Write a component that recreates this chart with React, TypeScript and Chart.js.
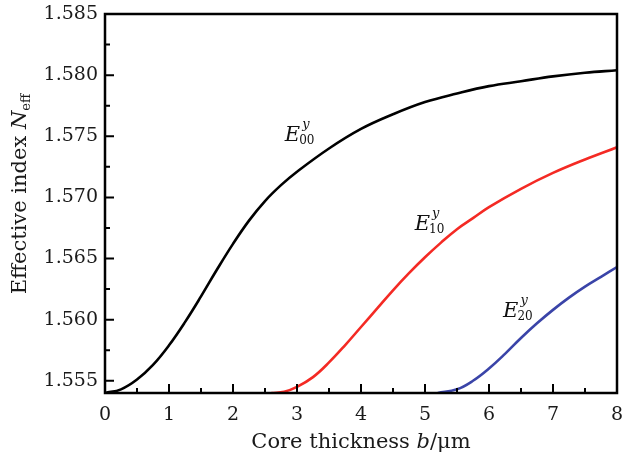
import React, { useEffect, useRef } from 'react';
import { Chart, registerables } from 'chart.js';

Chart.register(...registerables);

// ---- data ----
const xTicks = [0, 1, 2, 3, 4, 5, 6, 7, 8];
const xMinorTicks = [0.5, 1.5, 2.5, 3.5, 4.5, 5.5, 6.5, 7.5];
const yTicks = [1.555, 1.56, 1.565, 1.57, 1.575, 1.58, 1.585];
const yMinorTicks = [1.5575, 1.5625, 1.5675, 1.5725, 1.5775, 1.5825];

const bE00 = [0, 0.25, 0.5, 0.75, 1, 1.25, 1.5, 1.75, 2, 2.25, 2.5, 2.75, 3, 3.5, 4, 4.5, 5, 5.5, 6, 6.5, 7, 7.5, 8];
const nE00 = [1.554, 1.5543, 1.5551, 1.5563, 1.5579, 1.5598, 1.5619, 1.5641, 1.5662, 1.5681, 1.5697, 1.571, 1.5721, 1.574, 1.5756, 1.5768, 1.5778, 1.5785, 1.5791, 1.5795, 1.5799, 1.5802, 1.5804];

const bE10 = [2.6, 2.8, 3, 3.25, 3.5, 3.75, 4, 4.25, 4.5, 4.75, 5, 5.25, 5.5, 5.75, 6, 6.5, 7, 7.5, 8];
const nE10 = [1.554, 1.5541, 1.5545, 1.5553, 1.5565, 1.5579, 1.5594, 1.5609, 1.5624, 1.5638, 1.5651, 1.5663, 1.5674, 1.5683, 1.5692, 1.5707, 1.572, 1.5731, 1.5741];

const bE20 = [5.2, 5.5, 5.75, 6, 6.25, 6.5, 6.75, 7, 7.25, 7.5, 7.75, 8];
const nE20 = [1.554, 1.5543, 1.555, 1.556, 1.5572, 1.5585, 1.5597, 1.5608, 1.5618, 1.5627, 1.5635, 1.5643];

const modeNames = ['00', '10', '20'];
const modeLabelB = [2.81, 4.84, 6.22];
const modeLabelN = [1.5746, 1.5673, 1.56025];

const seriesColors = ['#000000', '#f42a24', '#3a44a8'];

const xTitleParts = ['Core thickness ', 'b', '/μm'];
const yTitleParts = ['Effective index ', 'N', 'eff'];

const FONT = '"DejaVu Serif", serif';

const toPoints = (xs: number[], ys: number[]) => xs.map((x, i) => ({ x, y: ys[i] }));

const decorPlugin = {
  id: 'decor',
  afterDatasetsDraw(chart: any) {
    const { ctx, chartArea: a, scales } = chart;
    const xs = scales.x;
    const ys = scales.y;
    ctx.save();
    ctx.strokeStyle = '#000';
    ctx.lineWidth = 2;
    ctx.beginPath();
    xTicks.forEach((v) => {
      const p = xs.getPixelForValue(v);
      ctx.moveTo(p, a.bottom);
      ctx.lineTo(p, a.bottom - 9);
    });
    xMinorTicks.forEach((v) => {
      const p = xs.getPixelForValue(v);
      ctx.moveTo(p, a.bottom);
      ctx.lineTo(p, a.bottom - 5);
    });
    yTicks.forEach((v) => {
      const p = ys.getPixelForValue(v);
      ctx.moveTo(a.left, p);
      ctx.lineTo(a.left + 9, p);
    });
    yMinorTicks.forEach((v) => {
      const p = ys.getPixelForValue(v);
      ctx.moveTo(a.left, p);
      ctx.lineTo(a.left + 5, p);
    });
    ctx.stroke();
    ctx.lineWidth = 2.5;
    ctx.strokeRect(a.left, a.top, a.right - a.left, a.bottom - a.top);

    // mode labels
    ctx.fillStyle = '#111';
    ctx.textBaseline = 'alphabetic';
    ctx.textAlign = 'left';
    modeNames.forEach((name, i) => {
      const px = xs.getPixelForValue(modeLabelB[i]);
      const py = ys.getPixelForValue(modeLabelN[i]);
      ctx.font = `italic 21px ${FONT}`;
      ctx.fillText('E', px, py);
      const w = ctx.measureText('E').width;
      ctx.font = `12px ${FONT}`;
      ctx.fillText(name, px + w - 1, py + 3);
      ctx.font = `italic 13px ${FONT}`;
      ctx.fillText('y', px + w + 2, py - 13);
    });

    // x title
    ctx.fillStyle = '#1a1a1a';
    const cx = (a.left + a.right) / 2;
    ctx.font = `21px ${FONT}`;
    const w0 = ctx.measureText(xTitleParts[0]).width;
    ctx.font = `italic 21px ${FONT}`;
    const w1 = ctx.measureText(xTitleParts[1]).width;
    ctx.font = `21px ${FONT}`;
    const w2 = ctx.measureText(xTitleParts[2]).width;
    const sx = cx - (w0 + w1 + w2) / 2;
    const by = 448;
    ctx.font = `21px ${FONT}`;
    ctx.fillText(xTitleParts[0], sx, by);
    ctx.font = `italic 21px ${FONT}`;
    ctx.fillText(xTitleParts[1], sx + w0, by);
    ctx.font = `21px ${FONT}`;
    ctx.fillText(xTitleParts[2], sx + w0 + w1, by);

    // y title (rotated)
    ctx.save();
    ctx.translate(26, 194);
    ctx.rotate(-Math.PI / 2);
    ctx.font = `21px ${FONT}`;
    const v0 = ctx.measureText(yTitleParts[0]).width;
    ctx.font = `italic 21px ${FONT}`;
    const v1 = ctx.measureText(yTitleParts[1]).width;
    ctx.font = `13px ${FONT}`;
    const v2 = ctx.measureText(yTitleParts[2]).width;
    const s = -(v0 + v1 + v2) / 2;
    ctx.font = `21px ${FONT}`;
    ctx.fillText(yTitleParts[0], s, 0);
    ctx.font = `italic 21px ${FONT}`;
    ctx.fillText(yTitleParts[1], s + v0, 0);
    ctx.font = `13px ${FONT}`;
    ctx.fillText(yTitleParts[2], s + v0 + v1, 4);
    ctx.restore();

    ctx.restore();
  },
};

export default function App() {
  const ref = useRef<HTMLCanvasElement | null>(null);
  useEffect(() => {
    if (!ref.current) return;
    const chart = new Chart(ref.current, {
      type: 'line',
      data: {
        datasets: [
          { label: 'E00', data: toPoints(bE00, nE00), borderColor: seriesColors[0] },
          { label: 'E10', data: toPoints(bE10, nE10), borderColor: seriesColors[1] },
          { label: 'E20', data: toPoints(bE20, nE20), borderColor: seriesColors[2] },
        ].map((d) => ({
          ...d,
          borderWidth: 2.6,
          pointRadius: 0,
          fill: false,
          tension: 0.4,
        })),
      },
      options: {
        responsive: false,
        animation: false,
        layout: { padding: { top: 14, right: 6, left: 0, bottom: 0 } },
        plugins: { legend: { display: false }, tooltip: { enabled: false } },
        scales: {
          x: {
            type: 'linear',
            min: 0,
            max: 8,
            grid: { display: false, drawTicks: false },
            border: { display: false },
            afterBuildTicks: (s: any) => {
              s.ticks = xTicks.map((v) => ({ value: v }));
            },
            afterFit: (s: any) => {
              s.height = 67;
              s.paddingLeft = 0;
              s.paddingRight = 0;
              s.paddingTop = 0;
              s.paddingBottom = 0;
            },
            ticks: {
              padding: 11,
              color: '#1a1a1a',
              font: { family: FONT, size: 19 },
              maxRotation: 0,
              callback: (v: any) => String(v),
            },
          },
          y: {
            type: 'linear',
            min: 1.554,
            max: 1.585,
            grid: { display: false, drawTicks: false },
            border: { display: false },
            afterBuildTicks: (s: any) => {
              s.ticks = yTicks.map((v) => ({ value: v }));
            },
            afterFit: (s: any) => {
              s.width = 105;
              s.paddingLeft = 0;
              s.paddingRight = 0;
              s.paddingTop = 0;
              s.paddingBottom = 0;
            },
            ticks: {
              padding: 7,
              color: '#1a1a1a',
              font: { family: FONT, size: 19 },
              callback: (v: any) => Number(v).toFixed(3),
            },
          },
        },
      },
      plugins: [decorPlugin],
    } as any);
    return () => chart.destroy();
  }, []);
  return (
    <div style={{ position: 'fixed', left: 0, top: 0, width: 623, height: 460, background: '#fff' }}>
      <canvas ref={ref} width={623} height={460} />
    </div>
  );
}
